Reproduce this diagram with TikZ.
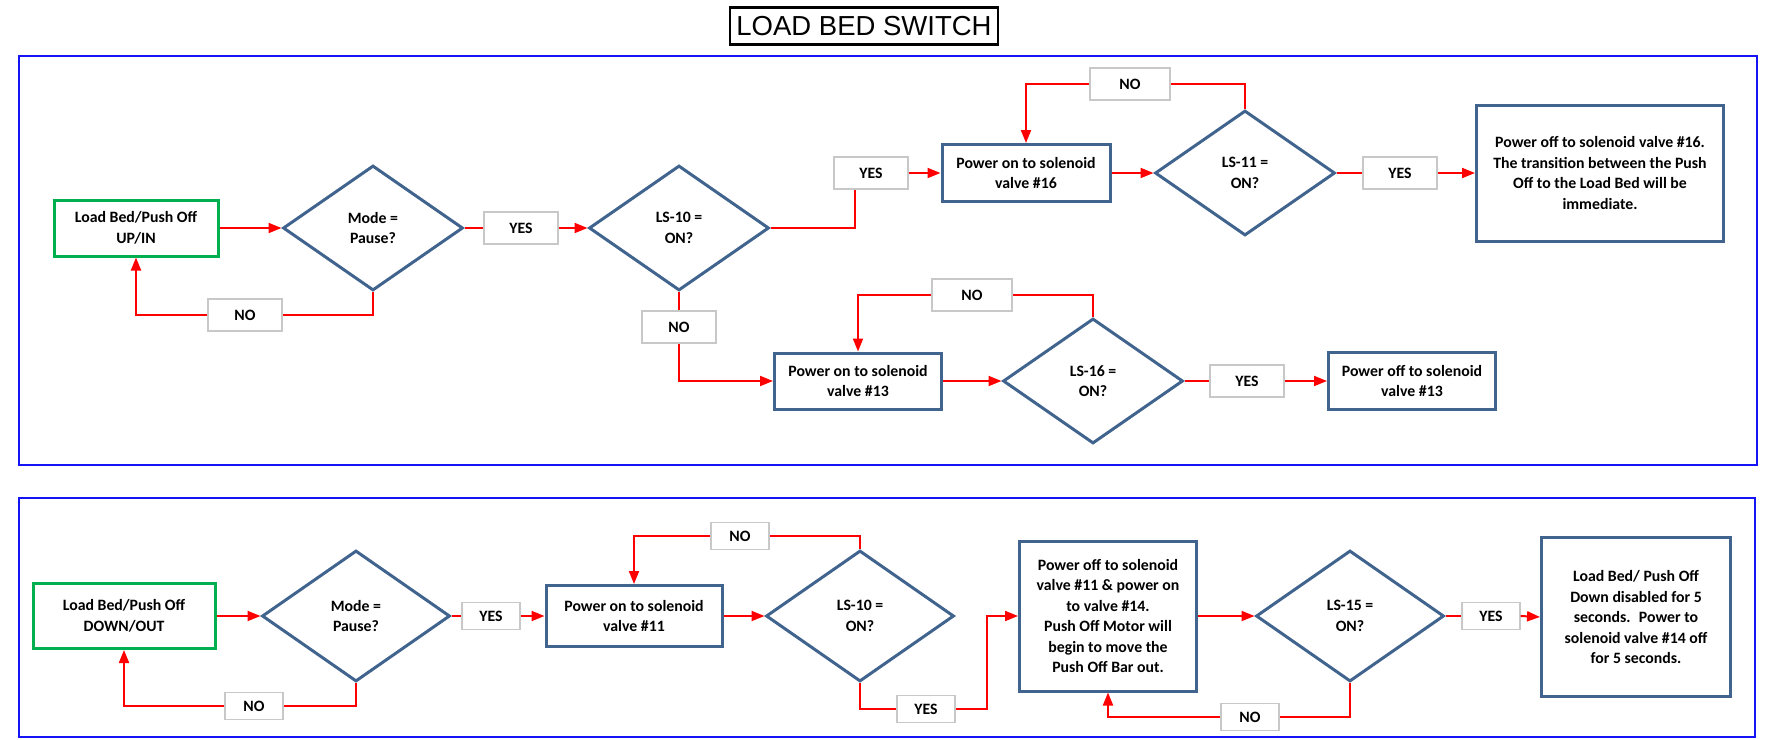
\documentclass[tikz,border=0pt]{standalone}
\usepackage{fontspec}
\setmainfont{Carlito}
\newfontfamily\titlefont{Liberation Sans}
\usetikzlibrary{positioning,arrows.meta,shapes.geometric}

\definecolor{boxblue}{RGB}{65,100,143}
\definecolor{startgreen}{RGB}{0,176,80}
\definecolor{panelblue}{RGB}{20,20,245}
\definecolor{lblgray}{RGB}{200,200,200}

\begin{document}
\begin{tikzpicture}[
  x=1pt, y=-1pt,
  font=\fontsize{15.8}{20.5}\selectfont\bfseries,
  proc/.style={rectangle, draw=boxblue, line width=3pt, fill=white, align=center, inner sep=3pt},
  start/.style={proc, draw=startgreen},
  dec/.style={diamond, draw=boxblue, line width=3pt, fill=white, align=center, inner sep=0pt,
              minimum width=180pt, minimum height=125pt},
  ldec/.style={dec, minimum width=188pt, minimum height=131pt},
  lbl/.style={rectangle, draw=lblgray, line width=1.3pt, fill=white,
              minimum width=74pt, minimum height=32pt, inner sep=0pt},
  slbl/.style={lbl, minimum width=58pt, minimum height=27pt},
  ln/.style={draw=red, line width=2pt},
  arr/.style={ln, -{Triangle[length=13pt,width=10pt]}},
  panel/.style={draw=panelblue, line width=2.5pt}
]
\useasboundingbox (0,0) rectangle (1767,739);

\node[draw, line width=2.5pt, minimum width=268pt, minimum height=37pt,
      font=\titlefont\fontsize{27.5}{30}\selectfont] (title) at (864,26) {LOAD BED SWITCH};

\draw[panel] (19,56) rectangle (1757,465);
\draw[panel] (19,498) rectangle (1755,737);

\node[start, minimum width=164pt, minimum height=56pt] (start1) at (136,228) {Load Bed/Push Off\\UP/IN};
\node[dec] (mode1) at (373,228) {Mode =\\Pause?};
\node[lbl] (yes1) at (521,228) {YES};
\node[lbl] (no1) at (245,315) {NO};
\node[dec] (ls10a) at (679,228) {LS-10 =\\ON?};
\node[lbl] (no2) at (679,327) {NO};
\node[lbl] (yes2) at (871,173) {YES};
\node[proc, minimum width=168pt, minimum height=57pt] (pwr16) at (1026,173) {Power on to solenoid\\valve \#16};
\node[dec] (ls11) at (1245,173) {LS-11 =\\ON?};
\node[lbl, minimum width=80pt] (no3) at (1130,84) {NO};
\node[lbl] (yes3) at (1400,173) {YES};
\node[proc, minimum width=247pt, minimum height=136pt] (off16) at (1600,173)
  {Power off to solenoid valve \#16.\\The transition between the Push\\Off to the Load Bed will be\\immediate.};
\node[proc, minimum width=167pt, minimum height=56pt] (pwr13) at (858,381) {Power on to solenoid\\valve \#13};
\node[dec] (ls16) at (1093,381) {LS-16 =\\ON?};
\node[lbl, minimum width=80pt] (no4) at (972,295) {NO};
\node[lbl] (yes4) at (1247,381) {YES};
\node[proc, minimum width=167pt, minimum height=57pt] (off13) at (1412,381) {Power off to solenoid\\valve \#13};

\draw[arr] (start1.east) -- (mode1.west);
\draw[ln] (mode1.east) -- (yes1.west);
\draw[arr] (yes1.east) -- (ls10a.west);
\draw[ln] (mode1.south) |- (no1.east);
\draw[arr] (no1.west) -| (start1.south);
\draw[ln] (ls10a.east) -| ([xshift=-16pt]yes2.south);
\draw[arr] (yes2.east) -- (pwr16.west);
\draw[arr] (pwr16.east) -- (ls11.west);
\draw[ln] (ls11.north) |- (no3.east);
\draw[arr] (no3.west) -| (pwr16.north);
\draw[ln] (ls11.east) -- (yes3.west);
\draw[arr] (yes3.east) -- (off16.west);
\draw[ln] (ls10a.south) -- (no2.north);
\draw[arr] (no2.south) |- (pwr13.west);
\draw[arr] (pwr13.east) -- (ls16.west);
\draw[ln] (ls16.north) |- (no4.east);
\draw[arr] (no4.west) -| (pwr13.north);
\draw[ln] (ls16.east) -- (yes4.west);
\draw[arr] (yes4.east) -- (off13.west);

\node[start, minimum width=182pt, minimum height=65pt] (start2) at (124,616) {Load Bed/Push Off\\DOWN/OUT};
\node[ldec] (mode2) at (356,616) {Mode =\\Pause?};
\node[slbl] (no5) at (254,706) {NO};
\node[slbl] (yes5) at (491,616) {YES};
\node[proc, minimum width=176pt, minimum height=61pt] (pwr11) at (634,616) {Power on to solenoid\\valve \#11};
\node[ldec] (ls10b) at (860,616) {LS-10 =\\ON?};
\node[slbl] (no6) at (740,536) {NO};
\node[slbl] (yes6) at (926,709) {YES};
\coordinate (bend) at (987,709);
\node[proc, minimum width=177pt, minimum height=150pt] (pwr14) at (1108,616)
  {Power off to solenoid\\valve \#11 \& power on\\to valve \#14.\\Push Off Motor will\\begin to move the\\Push Off Bar out.};
\node[ldec] (ls15) at (1350,616) {LS-15 =\\ON?};
\node[slbl] (no7) at (1250,717) {NO};
\node[slbl] (yes7) at (1491,616) {YES};
\node[proc, minimum width=189pt, minimum height=159pt] (final2) at (1636,617)
  {Load Bed/ Push Off\\Down disabled for 5\\seconds.~ Power to\\solenoid valve \#14 off\\for 5 seconds.};

\draw[arr] (start2.east) -- (mode2.west);
\draw[ln] (mode2.south) |- (no5.east);
\draw[arr] (no5.west) -| (start2.south);
\draw[ln] (mode2.east) -- (yes5.west);
\draw[arr] (yes5.east) -- (pwr11.west);
\draw[arr] (pwr11.east) -- (ls10b.west);
\draw[ln] (ls10b.north) |- (no6.east);
\draw[arr] (no6.west) -| (pwr11.north);
\draw[ln] (ls10b.south) |- (yes6.west);
\draw[arr] (yes6.east) -- (bend) |- (pwr14.west);
\draw[arr] (pwr14.east) -- (ls15.west);
\draw[ln] (ls15.south) |- (no7.east);
\draw[arr] (no7.west) -| (pwr14.south);
\draw[ln] (ls15.east) -- (yes7.west);
\draw[arr] (yes7.east) -- (final2.west);
\end{tikzpicture}
\end{document}
